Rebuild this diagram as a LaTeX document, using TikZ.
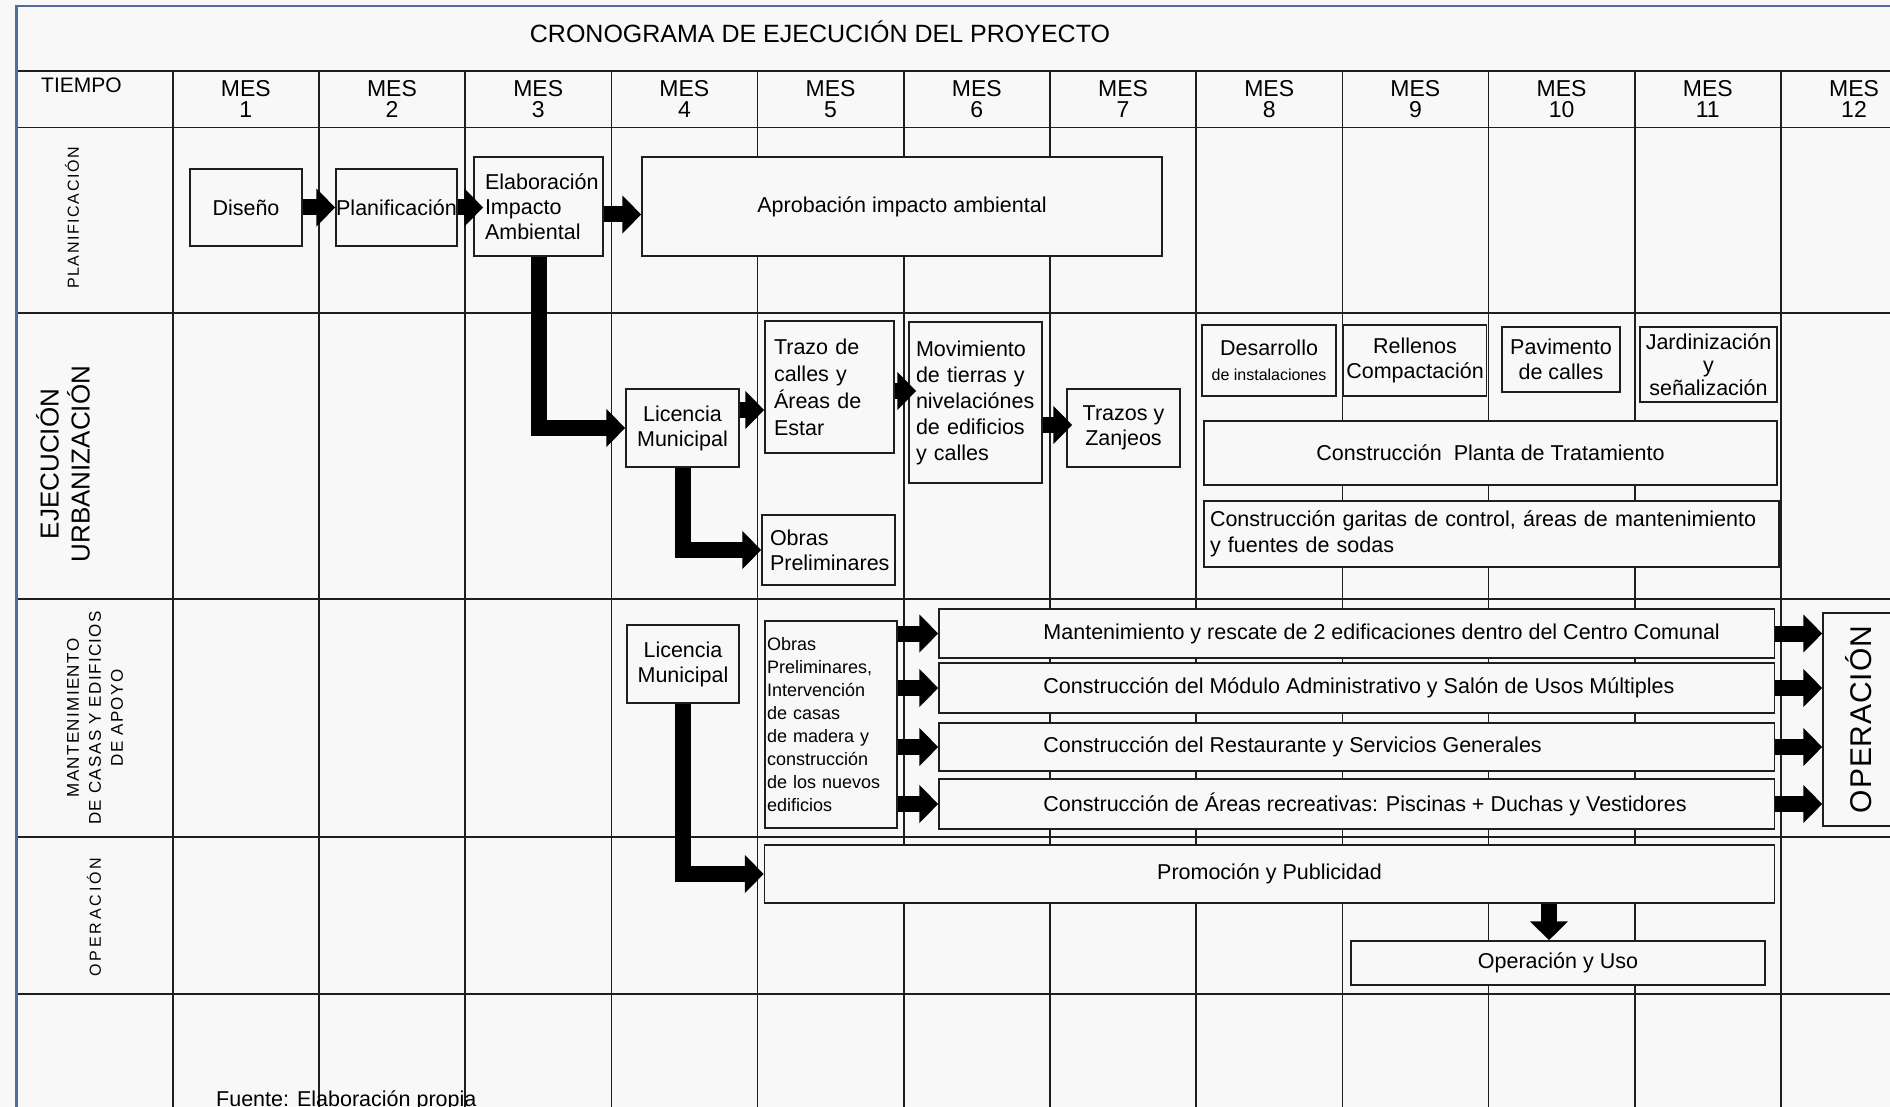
\documentclass[tikz,border=0pt]{standalone}
\usepackage{fontspec}
\setmainfont{Liberation Sans}
\usetikzlibrary{arrows.meta}
\definecolor{fondo}{RGB}{248,248,248}
\definecolor{marco}{RGB}{79,109,158}
\definecolor{linea}{RGB}{30,30,30}

\begin{document}
\begin{tikzpicture}[x=1pt, y=-1pt,
 texto/.style={inner sep=0pt, font=\fontsize{21.5}{25}\selectfont},
 caja/.style={texto, draw=linea, line width=1.5pt, fill=fondo},
 flecha/.style={line width=16pt, line join=miter, -{Triangle[length=19pt,width=37pt]}},
 rejilla/.style={draw=linea, line width=1.6pt},
 rotulo/.style={rotate=90, align=center, inner sep=0pt}]
\useasboundingbox (0,0) rectangle (1890,1107);
\fill[fondo] (0,0) rectangle (1890,1107);
\draw[rejilla] (16.4,71) -- (1890,71)
 (16.4,127.7) -- (1890,127.7)
 (16.4,313) -- (1890,313)
 (16.4,599) -- (1890,599)
 (16.4,837) -- (1890,837)
 (16.4,994) -- (1890,994);
\foreach \i in {1,...,12} {
 \pgfmathsetmacro\xc{172.7+146.2*(\i-1)}
 \draw[rejilla] (\xc,71) -- (\xc,1107);
 \node[texto, font=\fontsize{23}{23}\selectfont, anchor=base] (mes\i) at (\xc+73.1,97) {MES};
 \node[texto, font=\fontsize{23}{23}\selectfont, anchor=base] (num\i) at (\xc+73.1,118) {\i};
}
\draw[marco, line width=2.5pt] (16.4,1107) -- (16.4,6) -- (1890,6);
\node[texto, font=\fontsize{25}{25}\selectfont, anchor=base] (titulo) at (820,43) {CRONOGRAMA DE EJECUCIÓN DEL PROYECTO};
\node[texto, font=\fontsize{21}{21}\selectfont, anchor=base west] (tiempo) at (41,93) {TIEMPO};

\node[rotulo, font={\fontsize{16}{16}\selectfont\addfontfeatures{LetterSpace=10}}] (rplan) at (72,218) {PLANIFICACIÓN};
\node[rotulo, font=\fontsize{26}{31}\selectfont] (reje) at (63,464) {EJECUCIÓN\\URBANIZACIÓN};
\node[rotulo, font={\fontsize{17}{22}\selectfont\addfontfeatures{LetterSpace=8}}] (rman) at (95,718) {MANTENIMIENTO\\DE CASAS Y EDIFICIOS\\DE APOYO};
\node[rotulo, font={\fontsize{16}{16}\selectfont\addfontfeatures{LetterSpace=18}}] (rope) at (94,917) {OPERACIÓN};

\node[caja, minimum width=112pt, minimum height=77pt] (dis) at (246,207.5) {Diseño};
\node[caja, minimum width=121pt, minimum height=77pt] (pla) at (396.5,207.5) {Planificación};
\node[caja, minimum width=129pt, minimum height=99pt, text width=107pt, align=left] (ela) at (538.5,206.5) {Elaboración\\Impacto\\Ambiental};
\node[caja, minimum width=520pt, minimum height=99pt] (apr) at (902,206.5) {Aprobación impacto ambiental};
\node[caja, minimum width=113pt, minimum height=78pt, align=center] (lic1) at (682.5,428) {Licencia\\Municipal};
\node[caja, minimum width=129pt, minimum height=132pt, text width=111pt, align=left, font=\fontsize{21.5}{27}\selectfont] (tra) at (829.5,387) {Trazo de\\calles y\\Áreas de\\Estar};
\node[caja, minimum width=133pt, minimum height=70pt, text width=117pt, align=left] (obp) at (828.5,550) {Obras\\Preliminares};
\node[caja, minimum width=133pt, minimum height=161pt, text width=119pt, align=left, font=\fontsize{21.5}{26}\selectfont] (mov) at (975.5,402.5) {Movimiento\\de tierras y\\nivelaciónes\\de edificios\\y calles};
\node[caja, minimum width=113pt, minimum height=78pt, align=center] (trz) at (1123.5,428) {Trazos y\\Zanjeos};
\node[caja, minimum width=134pt, minimum height=71pt, align=center] (des) at (1269,360.5) {Desarrollo\\{\fontsize{16}{16}\selectfont de instalaciones}};
\node[caja, minimum width=143pt, minimum height=71pt, align=center] (rel) at (1415,360.5) {Rellenos\\Compactación};
\node[caja, minimum width=118pt, minimum height=65pt, align=center] (pav) at (1561,359.5) {Pavimento\\de calles};
\node[caja, minimum width=137pt, minimum height=75pt, align=center, font=\fontsize{21.5}{23}\selectfont] (jar) at (1708.5,364.5) {Jardinización\\y\\señalización};
\node[caja, minimum width=573pt, minimum height=64pt] (plt) at (1490.5,453) {Construcción \ Planta de Tratamiento};
\node[caja, minimum width=575pt, minimum height=66pt, text width=563pt, align=left, font=\fontsize{21.5}{26}\selectfont] (gar) at (1491.5,534) {Construcción garitas de control, áreas de mantenimiento\\y fuentes de sodas};

\node[caja, minimum width=112pt, minimum height=78pt, align=center] (lic2) at (683,664) {Licencia\\Municipal};
\node[caja, minimum width=132pt, minimum height=207pt, text width=128pt, align=left, font=\fontsize{18}{23}\selectfont] (obi) at (831,724.5) {Obras\\Preliminares,\\Intervención\\de casas\\de madera y\\construcción\\de los nuevos\\edificios};
\node[caja, minimum width=835.5pt, minimum height=49pt] (m1) at (1356.75,633.5) {};
\node[caja, minimum width=835.5pt, minimum height=50pt] (m2) at (1356.75,688) {};
\node[caja, minimum width=835.5pt, minimum height=48pt] (m3) at (1356.75,747) {};
\node[caja, minimum width=835.5pt, minimum height=50pt] (m4) at (1356.75,804) {};
\node[texto, anchor=west] (tm1) at ([xshift=105pt]m1.west) {Mantenimiento y rescate de 2 edificaciones dentro del Centro Comunal};
\node[texto, anchor=west] (tm2) at ([xshift=105pt]m2.west) {Construcción del Módulo Administrativo y Salón de Usos Múltiples};
\node[texto, anchor=west] (tm3) at ([xshift=105pt]m3.west) {Construcción del Restaurante y Servicios Generales};
\node[texto, anchor=west] (tm4) at ([xshift=105pt]m4.west) {Construcción de Áreas recreativas: Piscinas + Duchas y Vestidores};
\node[caja, minimum width=72pt, minimum height=213pt] (ope) at (1859,719.5) {\rotatebox{90}{\fontsize{30}{30}\selectfont\addfontfeatures{LetterSpace=3}OPERACIÓN}};

\node[caja, minimum width=1010pt, minimum height=58pt] (pro) at (1269.5,874) {Promoción y Publicidad};
\node[caja, minimum width=414pt, minimum height=44pt] (opu) at (1558,963) {Operación y Uso};
\node[texto, anchor=base west] (fuente) at (216,1106) {Fuente: Elaboración propia};

\coordinate (k0) at ([xshift=10pt]ela.west);
\coordinate (k1) at ([yshift=-8pt]ela.east);
\coordinate (k2) at ([yshift=18pt]lic1.east);
\coordinate (k3) at ([xshift=-9pt]opu.north);
\coordinate (k4) at ([xshift=8pt,yshift=11.5pt]mov.west);
\coordinate (k5) at ([xshift=6pt,yshift=3pt]trz.west);
\draw[flecha] (dis.east) -- (pla.west);
\draw[flecha] (pla.east) -- (pla.east -| k0);
\draw[flecha] (k1) -- (k1 -| apr.west);
\draw[flecha] (ela.south) |- (lic1.west);
\draw[flecha] (k2) -- (k2 -| tra.west);
\draw[flecha] (lic1.south) |- (obp.west);
\draw[flecha] (k4 -| tra.east) -- (k4);
\draw[flecha] (k5 -| mov.east) -- (k5);
\foreach \m in {m1,m2,m3,m4} {
 \draw[flecha] (\m.west -| obi.east) -- (\m.west);
 \draw[flecha] (\m.east) -- (\m.east -| ope.west);
}
\draw[flecha] (lic2.south) |- (pro.west);
\draw[flecha] (k3 |- pro.south) -- (k3);
\end{tikzpicture}
\end{document}
